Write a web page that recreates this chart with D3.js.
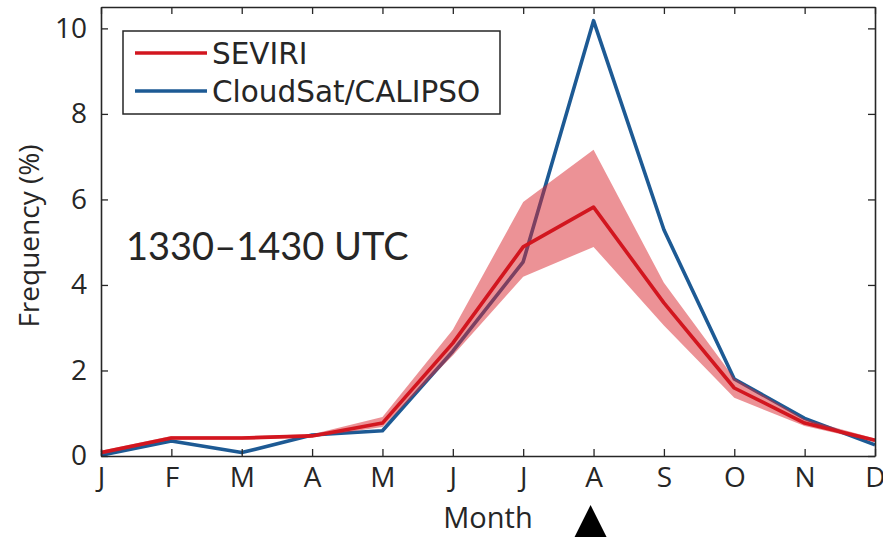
<!DOCTYPE html>
<html>
<head>
<meta charset="utf-8">
<script src="https://cdn.jsdelivr.net/npm/d3@7"></script>
<style>
  html, body { margin: 0; padding: 0; background: #fff; }
  svg { display: block; }
  text { font-family: "Open Sans", "Noto Sans", sans-serif; fill: #262626; }
</style>
</head>
<body>
<svg id="chart" width="883" height="537"></svg>
<script>
// Monthly frequency of occurrence (%)
const months = ["Jan", "Feb", "Mar", "Apr", "May", "Jun", "Jul", "Aug", "Sep", "Oct", "Nov", "Dec"];
const monthLabels = ["J", "F", "M", "A", "M", "J", "J", "A", "S", "O", "N", "D"];
const seviri = [0.08, 0.42, 0.42, 0.47, 0.77, 2.64, 4.89, 5.82, 3.58, 1.59, 0.77, 0.37];
const seviriUpper = [0.12, 0.47, 0.46, 0.51, 0.91, 2.95, 5.94, 7.16, 4.05, 1.82, 0.86, 0.41];
const seviriLower = [0.03, 0.38, 0.38, 0.44, 0.68, 2.35, 4.19, 4.89, 3.05, 1.36, 0.70, 0.33];
const cloudsat = [0.02, 0.35, 0.08, 0.49, 0.59, 2.45, 4.54, 10.18, 5.29, 1.80, 0.88, 0.26];
const yTicks = [0, 2, 4, 6, 8, 10];
const seriesNames = ["SEVIRI", "CloudSat/CALIPSO"];
const timeLabel = "1330\u20131430 UTC";

const redLine = "#d2161f";
const bandFill = "#d9262e";
const blueLine = "#1d5a94";
const axisColor = "#262626";

const svg = d3.select("#chart");
const m = { left: 101, right: 875, top: 7, bottom: 456 };

const x = d3.scalePoint().domain(months).range([m.left, m.right]);
const y = d3.scaleLinear().domain([0, 10.5]).range([m.bottom, m.top]);

const labelOf = d => monthLabels[months.indexOf(d)];

// Blue line sits beneath the shaded band
const line = d3.line().x((d, i) => x(months[i])).y(d => y(d));
svg.append("path")
  .datum(cloudsat)
  .attr("d", line)
  .attr("fill", "none")
  .attr("stroke", blueLine)
  .attr("stroke-width", 3.6)
  .attr("stroke-linejoin", "round");

// SEVIRI uncertainty band
const area = d3.area()
  .x((d, i) => x(months[i]))
  .y0((d, i) => y(seviriLower[i]))
  .y1((d, i) => y(seviriUpper[i]));
svg.append("path")
  .datum(seviri)
  .attr("d", area)
  .attr("fill", bandFill)
  .attr("fill-opacity", 0.5);

svg.append("path")
  .datum(seviri)
  .attr("d", line)
  .attr("fill", "none")
  .attr("stroke", redLine)
  .attr("stroke-width", 3.6)
  .attr("stroke-linejoin", "round");

// Axes with inward ticks on all four sides
const styleAxis = g => {
  g.select(".domain").attr("stroke", axisColor).attr("stroke-width", 1.6);
  g.selectAll(".tick line").attr("stroke", axisColor).attr("stroke-width", 1.3);
  g.selectAll(".tick text").attr("fill", axisColor).style("font-size", "28px")
    .style("font-family", '"Open Sans", "Noto Sans", sans-serif');
};

svg.append("g")
  .attr("transform", `translate(0,${m.bottom})`)
  .call(d3.axisBottom(x).tickFormat(labelOf).tickSize(-7).tickSizeOuter(0).tickPadding(11))
  .call(styleAxis)
  .call(g => g.selectAll(".tick text").attr("dy", "0.71em"));

svg.append("g")
  .attr("transform", `translate(0,${m.top})`)
  .call(d3.axisTop(x).tickFormat("").tickSize(-7).tickSizeOuter(0))
  .call(styleAxis);

svg.append("g")
  .attr("transform", `translate(${m.left},0)`)
  .call(d3.axisLeft(y).tickValues(yTicks).tickSize(-7).tickSizeOuter(0).tickPadding(14))
  .call(styleAxis);

svg.append("g")
  .attr("transform", `translate(${m.right},0)`)
  .call(d3.axisRight(y).tickValues(yTicks).tickFormat("").tickSize(-7).tickSizeOuter(0))
  .call(styleAxis);

// Axis titles
svg.append("text")
  .attr("x", 488).attr("y", 528)
  .attr("text-anchor", "middle")
  .style("font-size", "29px")
  .text("Month");

svg.append("text")
  .attr("transform", "translate(39,236) rotate(-90)")
  .attr("text-anchor", "middle")
  .style("font-size", "28px")
  .text("Frequency (%)");

// Time window annotation
svg.append("text")
  .attr("x", 126).attr("y", 260)
  .style("font-family", "Lato, 'Open Sans', sans-serif")
  .style("font-size", "38px")
  .attr("fill", "#000")
  .text(timeLabel);

// Legend
const legend = svg.append("g");
legend.append("rect")
  .attr("x", 123).attr("y", 31).attr("width", 377).attr("height", 83)
  .attr("fill", "#fff").attr("stroke", axisColor).attr("stroke-width", 1.5);
[[redLine, 53], [blueLine, 91]].forEach(([c, ly], i) => {
  legend.append("line")
    .attr("x1", 135).attr("x2", 207).attr("y1", ly).attr("y2", ly)
    .attr("stroke", c).attr("stroke-width", 3.6);
  legend.append("text")
    .attr("x", 212).attr("y", ly).attr("dy", "0.36em")
    .style("font-family", "'DejaVu Sans', sans-serif")
    .style("font-size", "29.5px").attr("fill", "#000")
    .text(seriesNames[i]);
});

// Marker under August
const ax = x("Aug") - 3;
svg.append("path")
  .attr("d", `M${ax},505 L${ax + 16},537 L${ax - 16},537 Z`)
  .attr("fill", "#000");
</script>
</body>
</html>
